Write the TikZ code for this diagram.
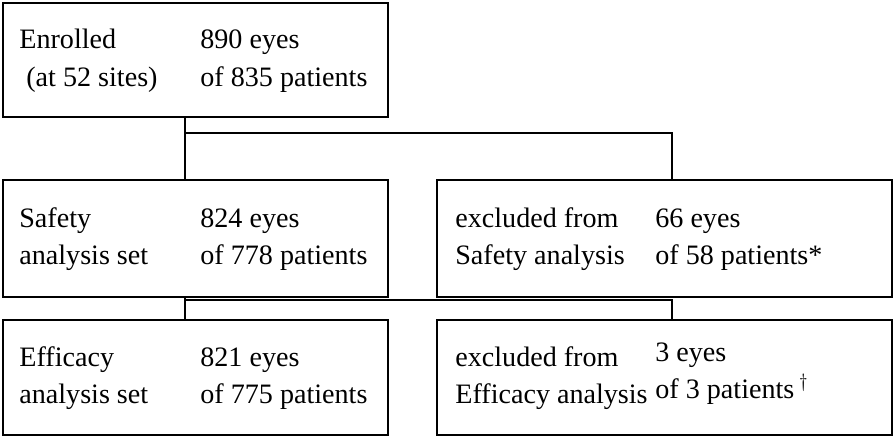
\documentclass[tikz,border=0pt]{standalone}
\usepackage{fontspec}
\setmainfont{Liberation Serif}
\usetikzlibrary{positioning}

\tikzset{
  box/.style={draw, line width=1.2pt, minimum height=2.3cm, inner sep=0pt},
  lbox/.style={box, minimum width=7.7cm},
  rbox/.style={box, minimum width=9.1cm},
  txt/.style={anchor=west, align=left, inner sep=0pt, font=\fontsize{16}{21.5}\selectfont},
  link/.style={line width=1.2pt}
}

\begin{document}
\begin{tikzpicture}
  \useasboundingbox (0,0) rectangle (17.92,8.76);

  % boxes
  \node[lbox, minimum height=2.28cm] (enrol) at (3.91,7.56) {};
  \node[lbox, minimum height=2.34cm] (safe) at (3.91,3.99) {};
  \node[rbox, minimum height=2.34cm] (exsafe) at (13.29,3.99) {};
  \node[lbox] (eff) at (3.91,1.21) {};
  \node[rbox] (exeff) at (13.29,1.21) {};

  % texts
  \node[txt] (enrolA) at (0.38,7.56) {\strut Enrolled\\\strut\hspace{0.25em}(at 52 sites)};
  \node[txt] (enrolB) at (4.0,7.56) {\strut 890 eyes\\\strut of 835 patients};
  \node[txt] (safeA) at (0.38,3.99) {\strut Safety\\\strut analysis set};
  \node[txt] (safeB) at (4.0,3.99) {\strut 824 eyes\\\strut of 778 patients};
  \node[txt] (exsafeA) at (9.1,3.99) {\strut excluded from\\\strut Safety analysis};
  \node[txt] (exsafeB) at (13.1,3.99) {\strut 66 eyes\\\strut of 58 patients*};
  \node[txt] (effA) at (0.38,1.21) {\strut Efficacy\\\strut analysis set};
  \node[txt] (effB) at (4.0,1.21) {\strut 821 eyes\\\strut of 775 patients};
  \node[txt] (exeffA) at (9.1,1.21) {\strut excluded from\\\strut Efficacy analysis};
  \node[txt] (exeffB) at (13.1,1.31) {\strut 3 eyes\\\strut of 3 patients\,$^\dagger$};

  % connectors
  \coordinate (j1) at (3.7,6.1);
  \coordinate (j2) at (13.44,6.1);
  \draw[link] (enrol.south -| j1) -- (safe.north -| j1);
  \draw[link] (j1) -- (j2) -- (exsafe.north -| j2);

  \coordinate (j3) at (3.7,2.76);
  \coordinate (j4) at (13.44,2.76);
  \draw[link] (safe.south -| j3) -- (eff.north -| j3);
  \draw[link] (j3) -- (j4) -- (exeff.north -| j4);
\end{tikzpicture}
\end{document}
